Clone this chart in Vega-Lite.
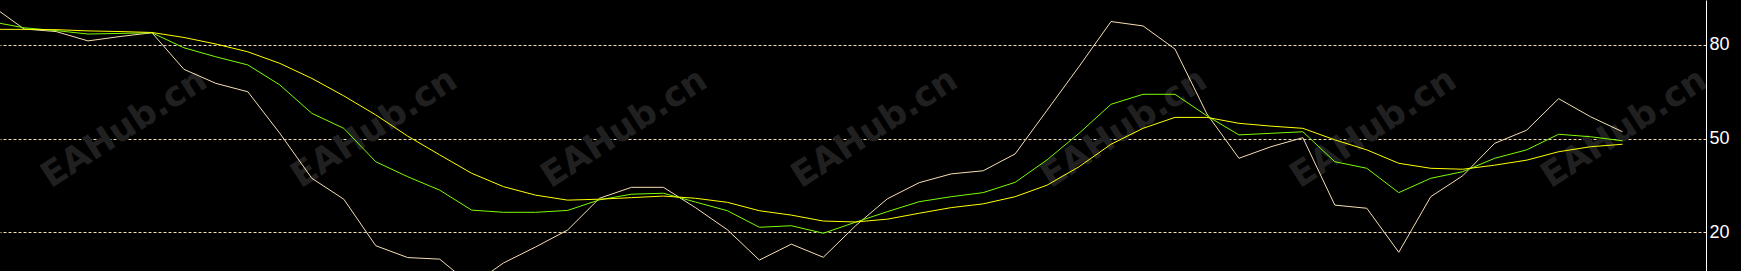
{
  "$schema": "https://vega.github.io/schema/vega-lite/v6.json",
  "width": 1706,
  "height": 271,
  "autosize": "none",
  "padding": {"left": 0, "top": 0, "right": 35, "bottom": 0},
  "background": "#000000",
  "config": {"view": {"stroke": null}},
  "datasets": {
    "wm": [
      {"k": 4.13, "v": 53.4, "t": "EAHub.cn"},
      {"k": 11.95, "v": 53.4, "t": "EAHub.cn"},
      {"k": 19.77, "v": 53.4, "t": "EAHub.cn"},
      {"k": 27.6, "v": 53.4, "t": "EAHub.cn"},
      {"k": 35.4, "v": 53.4, "t": "EAHub.cn"},
      {"k": 43.2, "v": 53.4, "t": "EAHub.cn"},
      {"k": 51.05, "v": 53.4, "t": "EAHub.cn"}
    ],
    "osc": [
      {"k":0,"s":"main","v":92.5},{"k":1,"s":"main","v":85.1},{"k":2,"s":"main","v":84.3},{"k":3,"s":"main","v":81.3},{"k":4,"s":"main","v":82.7},{"k":5,"s":"main","v":83.9},{"k":6,"s":"main","v":72.2},{"k":7,"s":"main","v":67.7},{"k":8,"s":"main","v":65.0},{"k":9,"s":"main","v":51.7},{"k":10,"s":"main","v":37.3},{"k":11,"s":"main","v":30.6},{"k":12,"s":"main","v":15.7},{"k":13,"s":"main","v":11.9},{"k":14,"s":"main","v":11.4},{"k":15,"s":"main","v":3.0},{"k":16,"s":"main","v":10.2},{"k":17,"s":"main","v":15.3},{"k":18,"s":"main","v":20.7},{"k":19,"s":"main","v":30.9},{"k":20,"s":"main","v":34.4},{"k":21,"s":"main","v":34.4},{"k":22,"s":"main","v":27.9},{"k":23,"s":"main","v":20.8},{"k":24,"s":"main","v":11.1},{"k":25,"s":"main","v":16.2},{"k":26,"s":"main","v":12.0},{"k":27,"s":"main","v":22.0},{"k":28,"s":"main","v":30.7},{"k":29,"s":"main","v":35.9},{"k":30,"s":"main","v":38.7},{"k":31,"s":"main","v":39.7},{"k":32,"s":"main","v":45.1},{"k":33,"s":"main","v":59.1},{"k":34,"s":"main","v":73.1},{"k":35,"s":"main","v":87.5},{"k":36,"s":"main","v":86.1},{"k":37,"s":"main","v":78.7},{"k":38,"s":"main","v":57.9},{"k":39,"s":"main","v":43.7},{"k":40,"s":"main","v":47.4},{"k":41,"s":"main","v":50.3},{"k":42,"s":"main","v":28.7},{"k":43,"s":"main","v":27.7},{"k":44,"s":"main","v":13.6},{"k":45,"s":"main","v":31.4},{"k":46,"s":"main","v":38.1},{"k":47,"s":"main","v":48.5},{"k":48,"s":"main","v":52.7},{"k":49,"s":"main","v":62.8},{"k":50,"s":"main","v":57.0},{"k":51,"s":"main","v":52.2},
      {"k":0,"s":"signal","v":87.4},{"k":1,"s":"signal","v":85.5},{"k":2,"s":"signal","v":84.6},{"k":3,"s":"signal","v":83.5},{"k":4,"s":"signal","v":83.7},{"k":5,"s":"signal","v":83.9},{"k":6,"s":"signal","v":79.1},{"k":7,"s":"signal","v":76.2},{"k":8,"s":"signal","v":73.6},{"k":9,"s":"signal","v":67.2},{"k":10,"s":"signal","v":58.1},{"k":11,"s":"signal","v":53.3},{"k":12,"s":"signal","v":42.6},{"k":13,"s":"signal","v":37.8},{"k":14,"s":"signal","v":33.5},{"k":15,"s":"signal","v":27.1},{"k":16,"s":"signal","v":26.4},{"k":17,"s":"signal","v":26.4},{"k":18,"s":"signal","v":27.0},{"k":19,"s":"signal","v":30.4},{"k":20,"s":"signal","v":32.2},{"k":21,"s":"signal","v":32.5},{"k":22,"s":"signal","v":29.7},{"k":23,"s":"signal","v":26.9},{"k":24,"s":"signal","v":21.6},{"k":25,"s":"signal","v":22.1},{"k":26,"s":"signal","v":19.7},{"k":27,"s":"signal","v":23.2},{"k":28,"s":"signal","v":26.6},{"k":29,"s":"signal","v":29.8},{"k":30,"s":"signal","v":31.4},{"k":31,"s":"signal","v":32.7},{"k":32,"s":"signal","v":36.0},{"k":33,"s":"signal","v":43.2},{"k":34,"s":"signal","v":51.7},{"k":35,"s":"signal","v":61.0},{"k":36,"s":"signal","v":64.2},{"k":37,"s":"signal","v":64.2},{"k":38,"s":"signal","v":57.3},{"k":39,"s":"signal","v":51.2},{"k":40,"s":"signal","v":51.7},{"k":41,"s":"signal","v":52.2},{"k":42,"s":"signal","v":42.6},{"k":43,"s":"signal","v":40.5},{"k":44,"s":"signal","v":32.7},{"k":45,"s":"signal","v":37.3},{"k":46,"s":"signal","v":39.4},{"k":47,"s":"signal","v":43.7},{"k":48,"s":"signal","v":46.4},{"k":49,"s":"signal","v":51.4},{"k":50,"s":"signal","v":50.6},{"k":51,"s":"signal","v":49.3},
      {"k":0,"s":"slow","v":85.0},{"k":1,"s":"slow","v":85.0},{"k":2,"s":"slow","v":84.9},{"k":3,"s":"slow","v":84.5},{"k":4,"s":"slow","v":84.3},{"k":5,"s":"slow","v":84.0},{"k":6,"s":"slow","v":82.4},{"k":7,"s":"slow","v":80.3},{"k":8,"s":"slow","v":77.8},{"k":9,"s":"slow","v":74.1},{"k":10,"s":"slow","v":69.3},{"k":11,"s":"slow","v":63.7},{"k":12,"s":"slow","v":57.6},{"k":13,"s":"slow","v":50.8},{"k":14,"s":"slow","v":44.8},{"k":15,"s":"slow","v":38.9},{"k":16,"s":"slow","v":34.6},{"k":17,"s":"slow","v":31.9},{"k":18,"s":"slow","v":30.3},{"k":19,"s":"slow","v":30.6},{"k":20,"s":"slow","v":31.1},{"k":21,"s":"slow","v":31.6},{"k":22,"s":"slow","v":30.9},{"k":23,"s":"slow","v":29.6},{"k":24,"s":"slow","v":26.9},{"k":25,"s":"slow","v":25.5},{"k":26,"s":"slow","v":23.6},{"k":27,"s":"slow","v":23.3},{"k":28,"s":"slow","v":24.2},{"k":29,"s":"slow","v":26.1},{"k":30,"s":"slow","v":27.9},{"k":31,"s":"slow","v":29.1},{"k":32,"s":"slow","v":31.4},{"k":33,"s":"slow","v":35.1},{"k":34,"s":"slow","v":41.0},{"k":35,"s":"slow","v":48.2},{"k":36,"s":"slow","v":53.3},{"k":37,"s":"slow","v":56.8},{"k":38,"s":"slow","v":56.8},{"k":39,"s":"slow","v":54.9},{"k":40,"s":"slow","v":54.0},{"k":41,"s":"slow","v":53.3},{"k":42,"s":"slow","v":49.6},{"k":43,"s":"slow","v":46.4},{"k":44,"s":"slow","v":42.1},{"k":45,"s":"slow","v":40.5},{"k":46,"s":"slow","v":40.2},{"k":47,"s":"slow","v":41.5},{"k":48,"s":"slow","v":43.1},{"k":49,"s":"slow","v":45.8},{"k":50,"s":"slow","v":47.4},{"k":51,"s":"slow","v":48.2}
    ]
  },
  "layer": [
    {
      "data": {"name": "wm"},
      "mark": {"type": "text", "angle": -33, "font": "DejaVu Sans", "fontWeight": "bold", "fontSize": 35, "color": "#202020", "align": "center", "baseline": "middle", "clip": true},
      "encoding": {
        "x": {"field": "k", "type": "quantitative", "scale": {"domain": [0.247, 53.61], "nice": false, "zero": false}, "axis": null},
        "y": {"field": "v", "type": "quantitative", "scale": {"domain": [7.6, 94.4], "nice": false, "zero": false},
              "axis": {"orient": "right", "values": [20, 50, 80], "title": null, "ticks": false, "labelPadding": 3,
                       "domain": true, "domainColor": "#ffffff", "domainWidth": 1,
                       "grid": true, "gridColor": "#F5DEB3", "gridDash": [3, 2], "gridWidth": 1, "gridOpacity": 1,
                       "labelColor": "#ffffff", "labelFont": "Liberation Sans", "labelFontSize": 18, "labelBaseline": "middle"}},
        "text": {"field": "t", "type": "nominal"}
      }
    },
    {
      "data": {"name": "osc"},
      "mark": {"type": "line", "strokeWidth": 1, "clip": true, "interpolate": "linear"},
      "encoding": {
        "x": {"field": "k", "type": "quantitative", "scale": {"domain": [0.247, 53.61], "nice": false, "zero": false}, "axis": null},
        "y": {"field": "v", "type": "quantitative", "scale": {"domain": [7.6, 94.4], "nice": false, "zero": false}},
        "color": {"field": "s", "type": "nominal", "scale": {"domain": ["main", "signal", "slow"], "range": ["#F5DEB3", "#7CFC00", "#FFFF00"]}, "legend": null},
        "order": {"field": "k", "type": "quantitative"}
      }
    }
  ]
}
